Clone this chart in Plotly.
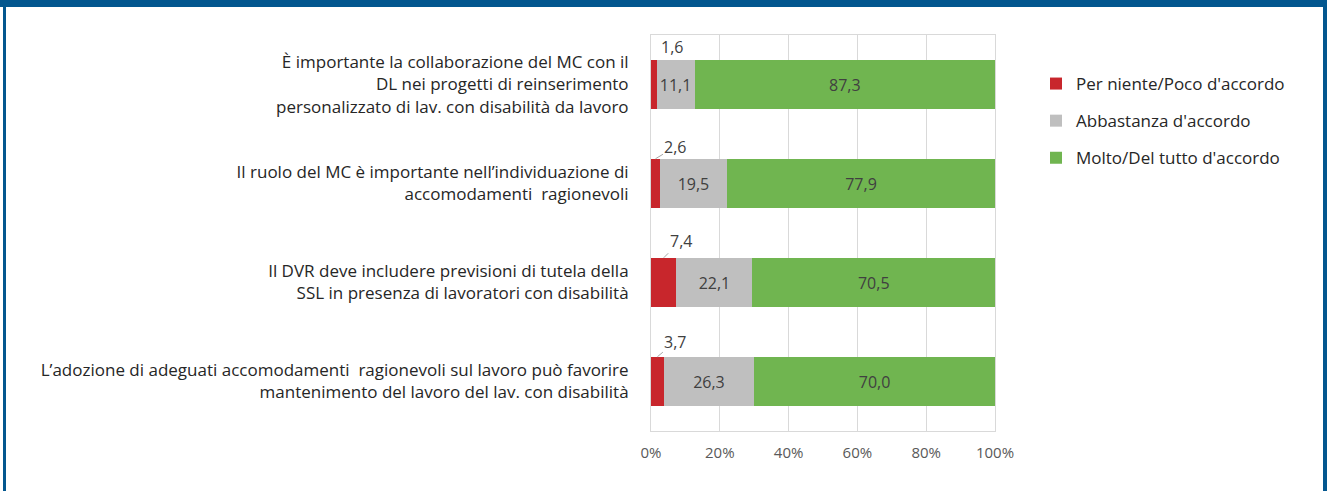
import plotly.graph_objects as go

W, H = 1327, 491
ML, MR, MT, MB = 651, 332, 35, 60

categories = [
    "È importante la collaborazione del MC con il<br>DL nei progetti di reinserimento<br>personalizzato di lav. con disabilità da lavoro",
    "Il ruolo del MC è importante nell’individuazione di<br>accomodamenti  ragionevoli",
    "Il DVR deve includere previsioni di tutela della<br>SSL in presenza di lavoratori con disabilità",
    "L’adozione di adeguati accomodamenti  ragionevoli sul lavoro può favorire<br>mantenimento del lavoro del lav. con disabilità",
]
series_names = ["Per niente/Poco d'accordo", "Abbastanza d'accordo", "Molto/Del tutto d'accordo"]
per_niente = [1.6, 2.6, 7.4, 3.7]
abbastanza = [11.1, 19.5, 22.1, 26.3]
molto = [87.3, 77.9, 70.5, 70.0]
colors = ["#c8262c", "#bfbfbf", "#70b550"]
tick_vals = [0, 20, 40, 60, 80, 100]
tick_text = ["0%", "20%", "40%", "60%", "80%", "100%"]
# offsets (px) of the outside labels for the small red segments
red_label_dx = [18, 20, 17, 18]
red_label_dy = [-13, -12, -17, -15]
red_label_arrow = [False, True, True, True]

def fmt(v):
    return f"{v:.1f}".replace(".", ",")

fig = go.Figure()
for i, (name, vals, col) in enumerate(zip(series_names, [per_niente, abbastanza, molto], colors)):
    fig.add_trace(go.Bar(
        y=categories, x=vals, name=name, orientation="h",
        marker=dict(color=col, line=dict(width=0)),
        text=None if i == 0 else [fmt(v) for v in vals],
        textposition="inside", insidetextanchor="middle",
        textfont=dict(family="Open Sans", size=16, color="#404040"),
        width=0.5, legendgroup=name, hoverinfo="x+name",
    ))

annotations = []
for k, v in enumerate(per_niente):
    a = dict(x=v / 2, y=k - 0.25, xref="x", yref="y", text=fmt(v),
             font=dict(family="Open Sans", size=16, color="#404040"))
    if red_label_arrow[k]:
        a.update(showarrow=True, arrowhead=0, arrowwidth=1, arrowcolor="#a6a6a6",
                 ax=red_label_dx[k], ay=red_label_dy[k], standoff=0)
    else:
        a.update(showarrow=False, xshift=red_label_dx[k], yshift=-red_label_dy[k])
    annotations.append(a)

# blue frame (decorative)
pw, ph = W - ML - MR, H - MT - MB
def px_x(p):
    return (p - ML) / pw
def px_y(p):
    return 1 - (p - MT) / ph
frame = "#03578f"
shapes = [
    dict(type="rect", xref="paper", yref="paper", x0=px_x(0), x1=px_x(W), y0=px_y(0), y1=px_y(7),
         fillcolor=frame, line=dict(width=0), layer="above"),
    dict(type="rect", xref="paper", yref="paper", x0=px_x(3), x1=px_x(6), y0=px_y(0), y1=px_y(H),
         fillcolor=frame, line=dict(width=0), layer="above"),
    dict(type="rect", xref="paper", yref="paper", x0=px_x(1323), x1=px_x(W), y0=px_y(0), y1=px_y(H),
         fillcolor=frame, line=dict(width=0), layer="above"),
]

fig.update_layout(
    width=W, height=H, barmode="stack",
    margin=dict(l=ML, r=MR, t=MT, b=MB, pad=0),
    paper_bgcolor="white", plot_bgcolor="white",
    font=dict(family="Open Sans", size=17, color="#262626"),
    xaxis=dict(range=[0, 100], tickvals=tick_vals, ticktext=tick_text,
               showgrid=True, gridcolor="#d9d9d9", gridwidth=1,
               showline=True, linecolor="#d9d9d9", linewidth=1, mirror=True,
               zeroline=False, ticks="", ticklabelstandoff=8,
               tickfont=dict(family="Open Sans", size=15, color="#595959"), fixedrange=True),
    yaxis=dict(autorange="reversed", showgrid=False, showline=True, linecolor="#d9d9d9",
               linewidth=1, mirror=True, ticks="", ticklabelstandoff=18,
               tickfont=dict(family="Open Sans", size=17, color="#262626"), fixedrange=True),
    legend=dict(x=px_x(1036), xanchor="left", y=px_y(66), yanchor="top",
                traceorder="grouped", tracegroupgap=12, itemwidth=30,
                font=dict(family="Open Sans", size=17, color="#262626"),
                bgcolor="rgba(0,0,0,0)"),
    showlegend=True, annotations=annotations, shapes=shapes, bargap=0.5,
)

fig.write_html("out.html")
